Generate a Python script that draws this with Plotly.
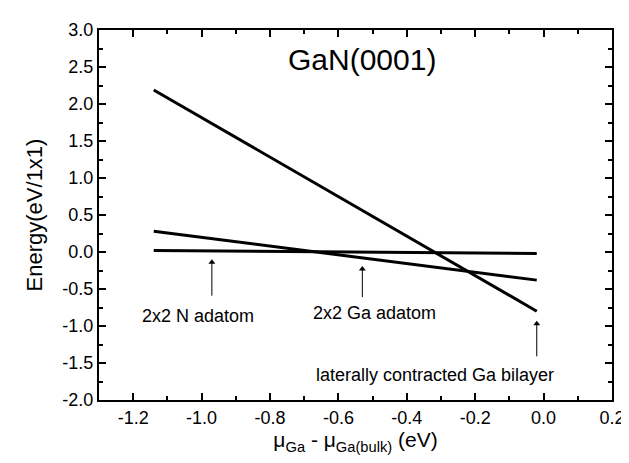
import plotly.graph_objects as go

# Data
mu_x = [-1.14, -0.02]
bilayer = [2.19, -0.80]
n_adatom = [0.02, -0.02]
ga_adatom = [0.28, -0.38]

x_ticks = [-1.2, -1.0, -0.8, -0.6, -0.4, -0.2, 0.0, 0.2]
y_ticks = [3.0, 2.5, 2.0, 1.5, 1.0, 0.5, 0.0, -0.5, -1.0, -1.5, -2.0]

labels = ["2x2 N adatom", "2x2 Ga adatom", "laterally contracted Ga bilayer"]
label_x = [-1.01, -0.494, -0.317]
label_y = [-0.86, -0.83, -1.66]
arrow_x = [-0.97, -0.53, -0.02]
arrow_tail_y = [-0.59, -0.61, -1.41]
arrow_head_y = [-0.14, -0.23, -0.97]

fig = go.Figure()
for ys in (bilayer, ga_adatom, n_adatom):
    fig.add_trace(go.Scatter(x=mu_x, y=ys, mode="lines",
                             line=dict(color="black", width=3), showlegend=False))

# arrows (shaft + head marker)
for ax_, ty, hy in zip(arrow_x, arrow_tail_y, arrow_head_y):
    fig.add_trace(go.Scatter(x=[ax_, ax_], y=[ty, hy], mode="lines",
                             line=dict(color="black", width=1), showlegend=False,
                             hoverinfo="skip"))
    fig.add_trace(go.Scatter(x=[ax_], y=[hy], mode="markers",
                             marker=dict(symbol="triangle-up", size=6, color="black"),
                             showlegend=False, hoverinfo="skip"))

font_main = "Liberation Sans, Arial, sans-serif"

for t, lx, ly in zip(labels, label_x, label_y):
    fig.add_annotation(x=lx, y=ly, text=t, showarrow=False,
                       font=dict(family=font_main, size=18, color="black"))

fig.add_annotation(x=-0.53, y=2.6, text="GaN(0001)", showarrow=False,
                   font=dict(family=font_main, size=30, color="black"))

axis_common = dict(showline=True, linecolor="black", linewidth=2, mirror="allticks",
                   ticks="inside", ticklen=7, tickwidth=2, tickcolor="black",
                   showgrid=False, zeroline=False,
                   tickfont=dict(family=font_main, size=18, color="black"))

fig.update_xaxes(range=[-1.3, 0.2], tickvals=x_ticks,
                 ticktext=[f"{v:.1f}" for v in x_ticks],
                 minor=dict(ticks="inside", ticklen=4, tickwidth=1.5, tickcolor="black",
                            dtick=0.1, tick0=-1.3, showgrid=False),
                 title=dict(text="μ<sub>Ga</sub> - μ<sub>Ga(bulk)</sub> (eV)",
                            font=dict(family=font_main, size=21, color="black"), standoff=6),
                 **axis_common)
fig.update_yaxes(range=[-2.0, 3.0], tickvals=y_ticks,
                 ticktext=[f"{v:.1f}" for v in y_ticks],
                 minor=dict(ticks="inside", ticklen=4, tickwidth=1.5, tickcolor="black",
                            dtick=0.25, tick0=-2.0, showgrid=False),
                 title=dict(text="Energy(eV/1x1)",
                            font=dict(family=font_main, size=22, color="black"), standoff=14),
                 **axis_common)

fig.update_layout(width=629, height=463, plot_bgcolor="white", paper_bgcolor="white",
                  margin=dict(l=91, r=12, t=19, b=71))

fig.write_html("out.html")
